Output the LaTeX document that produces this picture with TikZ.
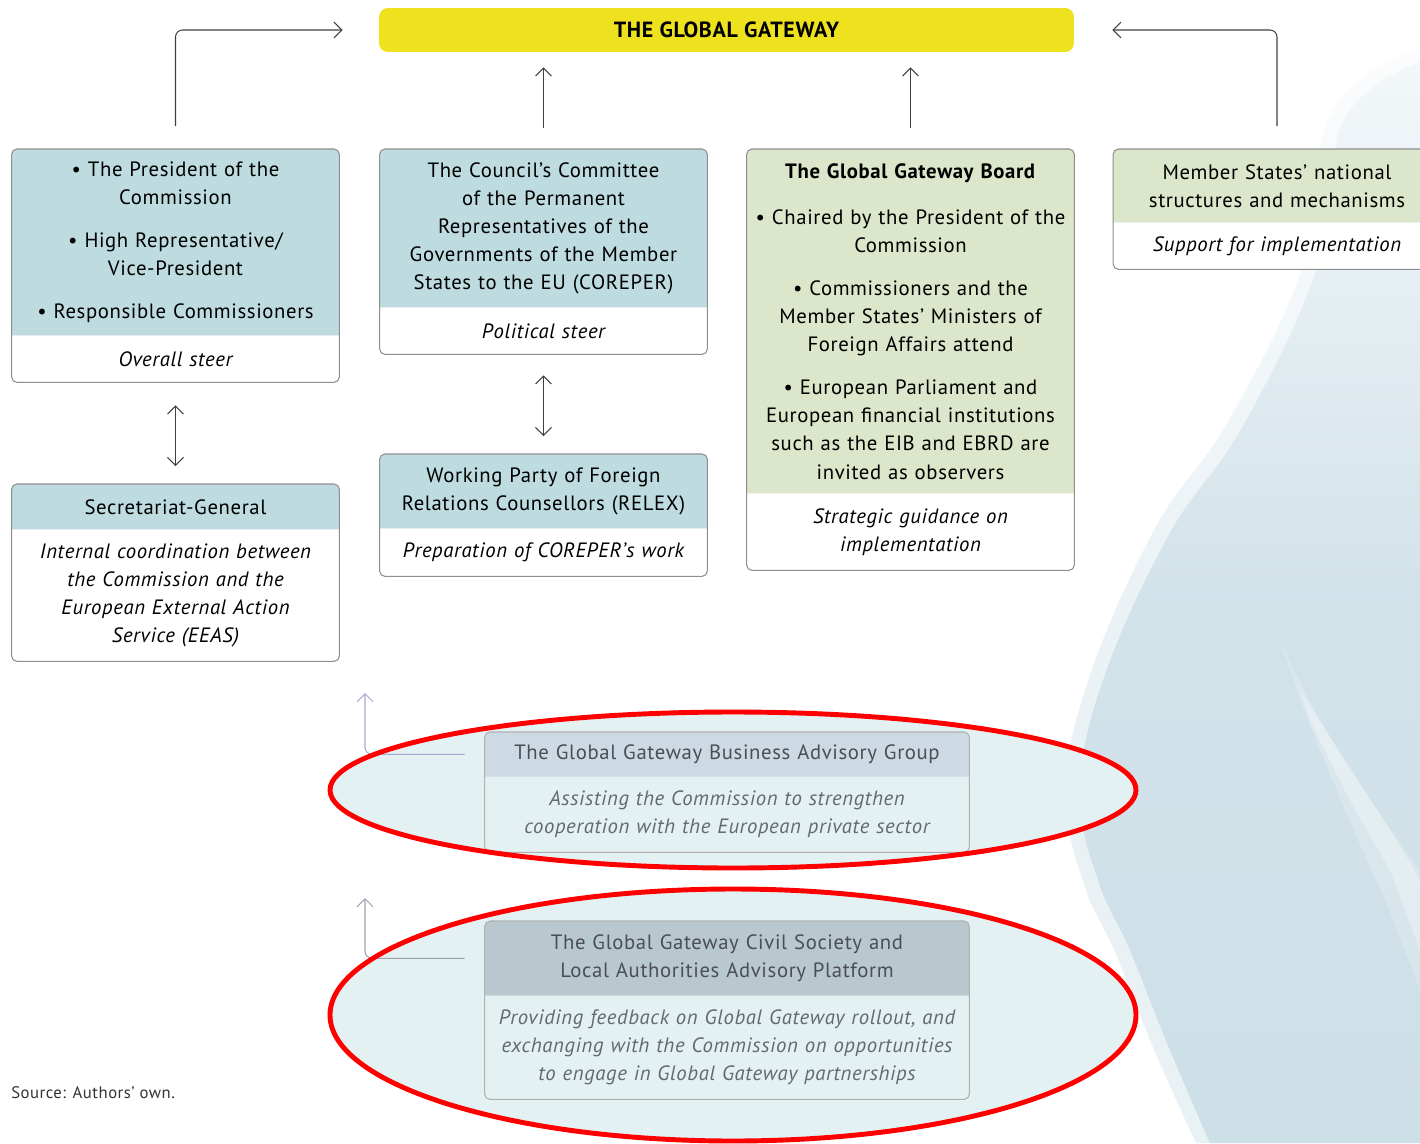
\documentclass[tikz,border=0pt]{standalone}
\usepackage{fontspec}
\setmainfont[LetterSpace=3]{PT Sans}
\usetikzlibrary{arrows.meta,backgrounds}

\definecolor{gwyellow}{HTML}{EEE21E}
\definecolor{hdblue}{HTML}{BEDCE0}
\definecolor{hdgreen}{HTML}{DCE6CA}
\definecolor{hdbiz}{HTML}{CDD9E3}
\definecolor{hdcivil}{HTML}{B9C8CE}
\definecolor{framegrey}{HTML}{8E8E8E}
\definecolor{ovalfill}{HTML}{E3F1F3}
\definecolor{ovalred}{HTML}{FF0000}
\definecolor{blob}{HTML}{CDDFE7}
\definecolor{linkpurple}{HTML}{A8A8D2}
\definecolor{linkgrey}{HTML}{9AA3AE}
\definecolor{fadedtext}{HTML}{4A4F55}

\tikzset{
  hd/.style={anchor=north, align=center, inner sep=0pt, text width=6.3cm,
    minimum width=6.54cm, font=\fontsize{11.8}{16}\selectfont},
  ft/.style={hd, font=\fontsize{11.8}{16}\selectfont\itshape},
  wide/.style={text width=9.5cm, minimum width=9.68cm},
  frame/.style={framegrey, line width=0.6pt, rounded corners=3pt},
  arr/.style={-{Straight Barb[length=4.5pt,width=9pt]}, line width=0.6pt, black!75},
  arrtwo/.style={{Straight Barb[length=4.5pt,width=9pt]}-{Straight Barb[length=4.5pt,width=9pt]}, line width=0.6pt, black!75},
  oval/.style={ovalred, line width=2.8pt}
}

\begin{document}
\begin{tikzpicture}[x=0.02cm, y=-0.02cm]

  \useasboundingbox (0,0) rectangle (1420,1143);

  % --- Top: The Global Gateway ---
  \node[fill=gwyellow, rounded corners=5pt, minimum width=13.9cm, minimum height=0.88cm,
    font=\fontsize{12.5}{15}\selectfont\bfseries] (gw) at (726.5,30) {THE GLOBAL GATEWAY};

  % --- Column 1: Commission ---
  \node[hd, minimum height=3.72cm] (presH) at (175.5,149)
    {• The President of the\\ Commission\\[0.3cm]
     • High Representative/\\ Vice-President\\[0.3cm]
     • Responsible Commissioners};
  \node[ft, minimum height=0.92cm] (presF) at (presH.south) {Overall steer};

  \node[hd, minimum height=0.9cm] (secH) at (175.5,484) {Secretariat-General};
  \node[ft, minimum height=2.62cm] (secF) at (secH.south)
    {Internal coordination between\\ the Commission and the\\ European External Action\\ Service (EEAS)};

  % --- Column 2: Council ---
  \node[hd, minimum height=3.16cm] (corH) at (543.5,149)
    {The Council’s Committee\\ of the Permanent\\ Representatives of the\\ Governments of the Member\\ States to the EU (COREPER)};
  \node[ft, minimum height=0.92cm] (corF) at (corH.south) {Political steer};

  \node[hd, minimum height=1.48cm] (relH) at (543.5,454)
    {Working Party of Foreign\\ Relations Counsellors (RELEX)};
  \node[ft, minimum height=0.94cm] (relF) at (relH.south) {Preparation of COREPER’s work};

  % --- Column 3: Board ---
  \node[hd, minimum height=6.88cm] (brdH) at (910.5,149)
    {\textbf{The Global Gateway Board}\\[0.36cm]
     • Chaired by the President of the\\ Commission\\[0.3cm]
     • Commissioners and the\\ Member States’ Ministers of\\ Foreign Affairs attend\\[0.3cm]
     • European Parliament and\\ European financial institutions\\ such as the EIB and EBRD are\\ invited as observers};
  \node[ft, minimum height=1.52cm] (brdF) at (brdH.south) {Strategic guidance on\\ implementation};

  % --- Column 4: Member States ---
  \node[hd, minimum height=1.46cm] (msH) at (1277,149)
    {Member States’ national\\ structures and mechanisms};
  \node[ft, minimum height=0.92cm] (msF) at (msH.south) {Support for implementation};

  % --- Advisory bodies ---
  \node[hd, wide, minimum height=0.88cm, text=fadedtext] (bizH) at (727,732)
    {The Global Gateway Business Advisory Group};
  \node[ft, wide, minimum height=1.5cm, text=fadedtext!85] (bizF) at (bizH.south)
    {Assisting the Commission to strengthen\\ cooperation with the European private sector};

  \node[hd, wide, minimum height=1.48cm, text=fadedtext] (civH) at (727,921)
    {The Global Gateway Civil Society and\\ Local Authorities Advisory Platform};
  \node[ft, wide, minimum height=2.06cm, text=fadedtext!85] (civF) at (civH.south)
    {Providing feedback on Global Gateway rollout, and\\ exchanging with the Commission on opportunities\\ to engage in Global Gateway partnerships};

  % --- Source ---
  \node[anchor=west, inner sep=0pt, text=black!80, font=\fontsize{9.5}{11}\selectfont] (src) at (11,1093)
    {Source: Authors’ own.};

  % --- Backdrop, ovals and box fills ---
  \begin{scope}[on background layer]
    \shade[top color=blob!20, bottom color=blob, middle color=blob!90, opacity=0.45]
      plot[smooth, tension=0.7] coordinates {(1420,48) (1332,110) (1305,260) (1230,418)
      (1153,532) (1085,690) (1067,800) (1085,887) (1115,952) (1155,1052) (1196,1143)} -- (1420,1143) -- cycle;
    \shade[top color=blob!25, bottom color=blob, middle color=blob!90]
      plot[smooth, tension=0.7] coordinates {(1420,62) (1344,120) (1319,262) (1244,424)
      (1167,538) (1099,692) (1081,800) (1099,883) (1129,948) (1169,1048) (1210,1143)} -- (1420,1143) -- cycle;
    \fill[white, opacity=0.2] plot[smooth, tension=0.7] coordinates {(1280,640) (1320,720)
      (1370,800) (1420,870)} -- (1420,990) -- plot[smooth, tension=0.7] coordinates {(1385,900)
      (1345,810) (1300,700)} -- cycle;
    \fill[white, opacity=0.3] plot[smooth, tension=0.7] coordinates {(1300,690) (1345,760)
      (1390,830) (1420,880)} -- (1420,950) -- plot[smooth, tension=0.7] coordinates {(1390,870)
      (1350,800) (1310,720)} -- cycle;
    \fill[ovalfill] (733,790) ellipse [x radius=403, y radius=78];
    \fill[ovalfill] (733,1015) ellipse [x radius=403, y radius=126];

    \fill[hdblue, rounded corners=3pt] (presH.south west) |- (presH.north east) -- (presH.south east);
    \fill[white, rounded corners=3pt] (presF.north east) -- (presF.south east) -- (presF.south west) -- (presF.north west);
    \draw[frame] (presH.north west) rectangle (presF.south east);

    \fill[hdblue, rounded corners=3pt] (secH.south west) |- (secH.north east) -- (secH.south east);
    \fill[white, rounded corners=3pt] (secF.north east) -- (secF.south east) -- (secF.south west) -- (secF.north west);
    \draw[frame] (secH.north west) rectangle (secF.south east);

    \fill[hdblue, rounded corners=3pt] (corH.south west) |- (corH.north east) -- (corH.south east);
    \fill[white, rounded corners=3pt] (corF.north east) -- (corF.south east) -- (corF.south west) -- (corF.north west);
    \draw[frame] (corH.north west) rectangle (corF.south east);

    \fill[hdblue, rounded corners=3pt] (relH.south west) |- (relH.north east) -- (relH.south east);
    \fill[white, rounded corners=3pt] (relF.north east) -- (relF.south east) -- (relF.south west) -- (relF.north west);
    \draw[frame] (relH.north west) rectangle (relF.south east);

    \fill[hdgreen, rounded corners=3pt] (brdH.south west) |- (brdH.north east) -- (brdH.south east);
    \fill[white, rounded corners=3pt] (brdF.north east) -- (brdF.south east) -- (brdF.south west) -- (brdF.north west);
    \draw[frame] (brdH.north west) rectangle (brdF.south east);

    \fill[hdgreen, rounded corners=3pt] (msH.south west) |- (msH.north east) -- (msH.south east);
    \fill[white, rounded corners=3pt] (msF.north east) -- (msF.south east) -- (msF.south west) -- (msF.north west);
    \draw[frame] (msH.north west) rectangle (msF.south east);

    \fill[hdbiz, rounded corners=3pt] (bizH.south west) |- (bizH.north east) -- (bizH.south east);
    \draw[frame, framegrey!70] (bizH.north west) rectangle (bizF.south east);

    \fill[hdcivil, rounded corners=3pt] (civH.south west) |- (civH.north east) -- (civH.south east);
    \draw[frame, framegrey!70] (civH.north west) rectangle (civF.south east);
  \end{scope}

  % --- Connectors ---
  \draw[arr, rounded corners=4pt, shorten <=0.46cm, shorten >=0.72cm] (presH.north) |- (gw.west);
  \draw[arr, shorten <=0.42cm, shorten >=0.3cm] (corH.north) -- (corH.north |- gw.south);
  \draw[arr, shorten <=0.42cm, shorten >=0.3cm] (brdH.north) -- (brdH.north |- gw.south);
  \draw[arr, rounded corners=4pt, shorten <=0.46cm, shorten >=0.76cm] (msH.north) |- (gw.east);

  \draw[arrtwo, shorten <=0.46cm, shorten >=0.36cm] (presF.south) -- (secH.north);
  \draw[arrtwo, shorten <=0.42cm, shorten >=0.36cm] (corF.south) -- (relH.north);

  \coordinate (bizUp) at (365,693);
  \coordinate (civUp) at (365,898);
  \draw[arr, linkpurple, rounded corners=4pt, shorten <=0.4cm] (bizH.west) -| (bizUp);
  \draw[arr, linkgrey, rounded corners=4pt, shorten <=0.4cm] (civH.west) -| (civUp);

  % --- Red ovals ---
  \draw[oval] (733,790) ellipse [x radius=403, y radius=78];
  \draw[oval] (733,1015) ellipse [x radius=403, y radius=126];

\end{tikzpicture}
\end{document}
